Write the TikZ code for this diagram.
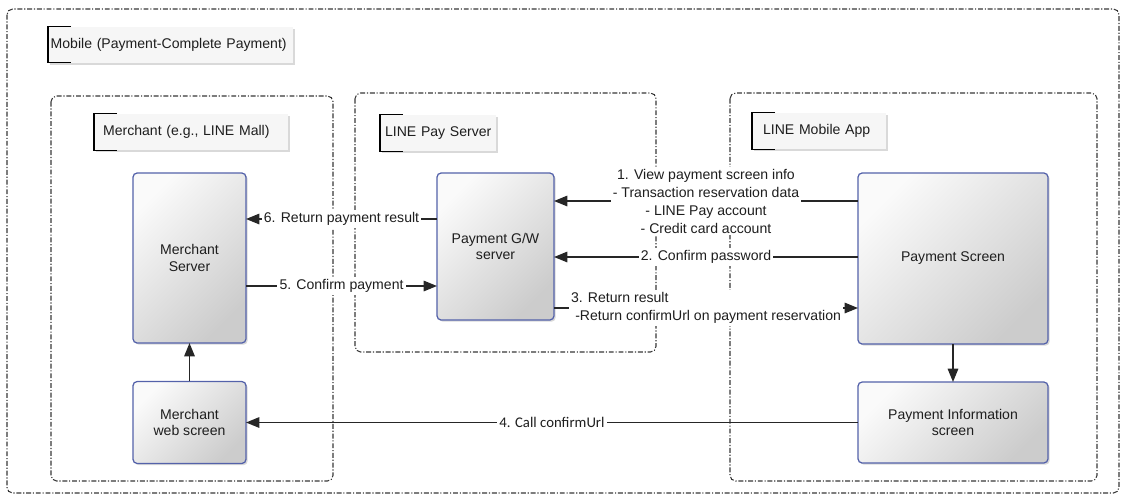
\documentclass[tikz,border=0pt]{standalone}
\usepackage{fontspec}
\setmainfont{Liberation Sans}
\newfontfamily\calfont{Carlito}
\usetikzlibrary{arrows.meta,shadows}
\definecolor{boxline}{RGB}{84,98,170}
\definecolor{zonegray}{RGB}{55,55,55}
\definecolor{txtgray}{RGB}{30,30,30}
\tikzset{
    zone/.style={draw=zonegray, line width=0.75pt, rounded corners=4pt,
        dash pattern=on 3.5pt off 1.3pt on 0.8pt off 1.3pt},
    blk/.style={draw=boxline, line width=0.9pt, rounded corners=3pt, shading=axis,
        top color=gray!4, bottom color=gray!40, shading angle=45,
        drop shadow={shadow xshift=1.2pt, shadow yshift=-1.2pt, opacity=0.3},
        align=center, outer sep=0pt, text=txtgray},
    ttl/.style={fill=gray!7, drop shadow={shadow xshift=1.5pt, shadow yshift=-1.5pt, opacity=0.3},
        minimum height=0.9cm, inner ysep=0pt, anchor=west, align=left, text=txtgray},
    flow/.style={line width=1pt, draw=black!85, -{Triangle[length=9.5pt,width=7.5pt]}},
    msg/.style={fill=white, inner sep=1.5pt, text=txtgray, align=center,
        font=\fontsize{10}{12.8}\selectfont}
}
\begin{document}
\begin{tikzpicture}[x=0.025cm, y=-0.025cm, font=\fontsize{10}{12}\selectfont]
    \useasboundingbox (0,0) rectangle (1126,496);
    \draw[zone] (7,9) rectangle (1119,493);
    \draw[zone] (51,96) rectangle (333,481);
    \draw[zone] (355,93) rectangle (656,352);
    \draw[zone] (730,93) rectangle (1097,481);

    \node[ttl, inner xsep=0.06cm, text width=6.0cm] (tmob) at (48,44.5) {Mobile (Payment-Complete Payment)};
    \node[ttl, inner xsep=0.22cm, text width=4.41cm] (tmer) at (94,132) {Merchant (e.g., LINE Mall)};
    \node[ttl, inner xsep=0.12cm, text width=2.66cm] (tpay) at (380,133) {LINE Pay Server};
    \node[ttl, inner xsep=0.27cm, text width=2.79cm] (tapp) at (752,131) {LINE Mobile App};
    \foreach \t in {tmob,tmer,tpay,tapp}
        \draw[line width=0.9pt] ([xshift=0.58cm]\t.north west) -- (\t.north west) -- (\t.south west) -- ([xshift=0.58cm]\t.south west);

    \node[blk, minimum width=2.825cm, minimum height=4.25cm] (msrv) at (189.5,258) {Merchant\\Server};
    \node[blk, minimum width=2.825cm, minimum height=2.05cm] (mweb) at (189.5,422.5) {Merchant\\web screen};
    \node[blk, minimum width=2.925cm, minimum height=3.675cm] (pgw) at (495.5,246.5) {Payment G/W\\server};
    \node[blk, minimum width=4.75cm, minimum height=4.275cm] (pscr) at (953,258.5) {Payment Screen};
    \node[blk, minimum width=4.75cm, minimum height=2.025cm] (pinf) at (953,422.5) {Payment Information\\screen};

    \draw[flow] (pgw.west |- 0,219) -- node[msg] {6. Return payment result} (msrv.east |- 0,219);
    \draw[flow] (msrv.east |- 0,286) -- node[msg] {5. Confirm payment} (pgw.west |- 0,286);
    \draw[flow] (pscr.west |- 0,201) -- node[msg] {1. View payment screen info\\- Transaction reservation data\\- LINE Pay account\\- Credit card account} (pgw.east |- 0,201);
    \draw[flow] (pscr.west |- 0,257) -- node[msg] {2. Confirm password} (pgw.east |- 0,257);
    \draw[flow] (pgw.east |- 0,308) -- node[msg, align=left] {3. Return result\\\hspace*{3pt}-Return confirmUrl on payment reservation} (pscr.west |- 0,308);
    \draw[flow] (pinf.west) -- node[msg, font=\calfont\fontsize{10.5}{12}\selectfont] {4. Call confirmUrl} (mweb.east);
    \draw[flow] (mweb.north) -- (msrv.south);
    \draw[flow] (pscr.south) -- (pinf.north);
\end{tikzpicture}
\end{document}
